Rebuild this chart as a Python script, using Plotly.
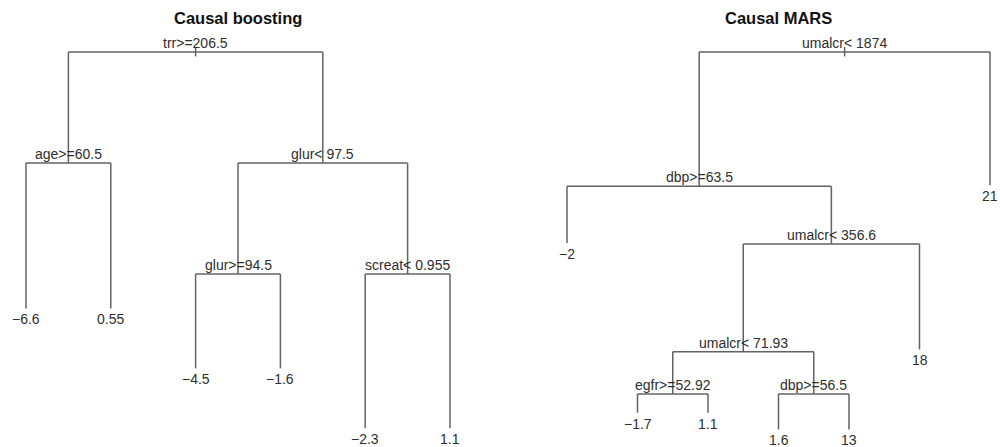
import plotly.graph_objects as go

# ---------------- Data ----------------
# Causal boosting tree (rpart node numbering)
boost_title = "Causal boosting"
boost_node_ids = [1, 2, 3, 4, 5, 6, 7, 12, 13, 14, 15]
boost_node_text = ["trr>=206.5", "age>=60.5", "glur< 97.5", "−6.6", "0.55",
                   "glur>=94.5", "screat< 0.955", "−4.5", "−1.6", "−2.3", "1.1"]
boost_node_depth = [0.0, 1.0, 1.0, 2.31, 2.31, 2.0, 2.0, 2.85, 2.85, 3.39, 3.39]

# Causal MARS tree
mars_title = "Causal MARS"
mars_node_ids = [1, 2, 3, 4, 5, 10, 11, 20, 21, 40, 41, 42, 43]
mars_node_text = ["umalcr< 1874", "dbp>=63.5", "21", "−2", "umalcr< 356.6",
                  "umalcr< 71.93", "18", "egfr>=52.92", "dbp>=56.5",
                  "−1.7", "1.1", "1.6", "13"]
mars_node_depth = [0.0, 1.21, 1.20, 1.72, 1.73, 2.70, 2.68, 3.08, 3.08,
                   3.25, 3.25, 3.40, 3.40]

# ---------------- Layout helpers ----------------
LINE_COLOR = "#636363"
TEXT_COLOR = "#2e2e2e"
FONT = "Liberation Sans, Arial, Helvetica, sans-serif"


def layout_tree(ids, depth):
    d = dict(zip(ids, depth))
    ids_set = set(ids)
    xpos = {}
    counter = [0]

    def visit(n):
        l, r = 2 * n, 2 * n + 1
        if l in ids_set:
            visit(l)
            visit(r)
            xpos[n] = (xpos[l] + xpos[r]) / 2
        else:
            counter[0] += 1
            xpos[n] = counter[0]

    visit(1)
    return xpos, d, counter[0]


fig = go.Figure()
annotations = []

trees = [
    (boost_title, boost_node_ids, boost_node_text, boost_node_depth, "x", "y"),
    (mars_title, mars_node_ids, mars_node_text, mars_node_depth, "x2", "y2"),
]

for title, ids, texts, depth, xr, yr in trees:
    xpos, ydep, nleaf = layout_tree(ids, depth)
    ids_set = set(ids)
    lx, ly = [], []
    # root tick
    lx += [xpos[1], xpos[1], None]
    ly += [-0.045, 0.04, None]
    for n in ids:
        l, r = 2 * n, 2 * n + 1
        if l in ids_set:
            # horizontal bar
            lx += [xpos[l], xpos[r], None]
            ly += [ydep[n], ydep[n], None]
            # verticals down to children
            for c in (l, r):
                lx += [xpos[c], xpos[c], None]
                ly += [ydep[n], ydep[c], None]
    fig.add_trace(go.Scatter(x=lx, y=ly, mode="lines",
                             line=dict(color=LINE_COLOR, width=1.5),
                             hoverinfo="skip", showlegend=False,
                             xaxis=xr, yaxis=yr))
    for n, t in zip(ids, texts):
        internal = (2 * n) in ids_set
        annotations.append(dict(
            x=xpos[n], y=ydep[n], xref=xr, yref=yr, text=t, showarrow=False,
            xanchor="center", yanchor="bottom" if internal else "top",
            yshift=-1,
            font=dict(family=FONT, size=14, color=TEXT_COLOR)))
    annotations.append(dict(
        x=(1 + nleaf) / 2, y=1 - 18 / 447, xref=xr, yref="paper", text="<b>" + title + "</b>",
        showarrow=False, xanchor="center", yanchor="middle",
        font=dict(family=FONT, size=16.5, color="#111111")))

px_per_unit_y = 111.0
y_top = -52 / px_per_unit_y
y_bot = (447 - 52) / px_per_unit_y

fig.update_layout(
    width=1000, height=447,
    margin=dict(l=0, r=0, t=0, b=0),
    paper_bgcolor="white", plot_bgcolor="white",
    annotations=annotations,
    xaxis=dict(domain=[0, 0.5], range=[1 - 26 / 84.8, 1 + 474 / 84.8], visible=False, fixedrange=True),
    yaxis=dict(domain=[0, 1], range=[y_bot, y_top], visible=False, fixedrange=True),
    xaxis2=dict(domain=[0.5, 1], range=[1 - 67 / 70.5, 1 + 433 / 70.5], visible=False, fixedrange=True),
    yaxis2=dict(domain=[0, 1], range=[y_bot, y_top], visible=False, anchor="x2", fixedrange=True),
)

fig.write_html("out.html")
